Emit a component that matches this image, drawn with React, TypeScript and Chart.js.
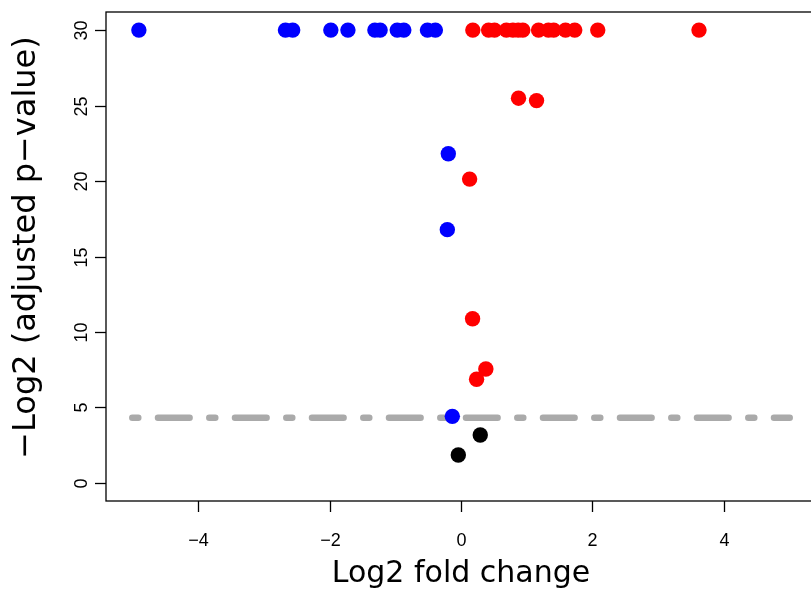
import { useEffect, useRef } from "react";
import { Chart, registerables } from "chart.js";

Chart.register(...registerables);

// Axis ticks and limits
const X_TICKS = [-4, -2, 0, 2, 4];
const Y_TICKS = [0, 5, 10, 15, 20, 25, 30];
const X_LIMITS = [-5.4, 5.4];
const Y_LIMITS = [-1.2, 31.2];

// Significance cut-off: -log2(0.05)
const THRESHOLD = 4.32;
const THRESHOLD_SPAN = [-5, 5];

// Down-regulated genes (blue)
const DOWN_X = [-4.9, -2.67, -2.56, -1.98, -1.72, -1.31, -1.23, -0.97, -0.87, -0.51, -0.39, -0.193, -0.208, -0.132];
const DOWN_Y = [30, 30, 30, 30, 30, 30, 30, 30, 30, 30, 30, 21.81, 16.78, 4.41];

// Up-regulated genes (red)
const UP_X = [0.18, 0.42, 0.51, 0.69, 0.79, 0.87, 0.94, 1.18, 1.33, 1.41, 1.59, 1.73, 2.08, 3.62, 0.875, 1.149, 0.131, 0.176, 0.378, 0.237];
const UP_Y = [30, 30, 30, 30, 30, 30, 30, 30, 30, 30, 30, 30, 30, 30, 25.49, 25.33, 20.13, 10.88, 7.55, 6.87];

// Not significant (black)
const NS_X = [0.293, -0.041];
const NS_Y = [3.17, 1.85];

const X_TITLE = "Log2 fold change";
const Y_TITLE = "\u2212Log2 (adjusted p\u2212value)";

const toPoints = (xs: number[], ys: number[]) => xs.map((x, i) => ({ x, y: ys[i] }));
const fmt = (v: number) => (v < 0 ? "\u2212" + Math.abs(v) : String(v));

// Base-graphics style frame, ticks and labels
const frameAxes = {
  id: "frameAxes",
  afterDraw(chart: any) {
    const { ctx, chartArea: a, scales } = chart;
    const x = scales.x;
    const y = scales.y;
    ctx.save();
    ctx.strokeStyle = "#000";
    ctx.fillStyle = "#000";
    ctx.lineWidth = 1.3;
    ctx.strokeRect(a.left, a.top, a.right - a.left, a.bottom - a.top);

    ctx.font = '18px "Liberation Sans", Arial, sans-serif';
    ctx.textAlign = "center";
    ctx.textBaseline = "alphabetic";
    X_TICKS.forEach((v) => {
      const px = Math.round(x.getPixelForValue(v)) + 0.5;
      ctx.beginPath();
      ctx.moveTo(px, a.bottom);
      ctx.lineTo(px, a.bottom + 11);
      ctx.stroke();
      ctx.fillText(fmt(v), px, a.bottom + 45);
    });
    Y_TICKS.forEach((v) => {
      const py = Math.round(y.getPixelForValue(v)) + 0.5;
      ctx.beginPath();
      ctx.moveTo(a.left - 11, py);
      ctx.lineTo(a.left, py);
      ctx.stroke();
      ctx.save();
      ctx.translate(a.left - 19.5, py);
      ctx.rotate(-Math.PI / 2);
      ctx.fillText(fmt(v), 0, 0);
      ctx.restore();
    });

    ctx.font = '30px "DejaVu Sans", sans-serif';
    ctx.fillText(X_TITLE, (a.left + a.right) / 2, a.bottom + 80.5);

    ctx.font = '32px "DejaVu Sans", sans-serif';
    ctx.save();
    ctx.translate(a.left - 71, (a.top + a.bottom) / 2 - 9);
    ctx.rotate(-Math.PI / 2);
    ctx.fillText(Y_TITLE, 0, 0);
    ctx.restore();
    ctx.restore();
  },
};

function VolcanoPlot() {
  const canvasRef = useRef<HTMLCanvasElement | null>(null);

  useEffect(() => {
    const canvas = canvasRef.current;
    if (!canvas) return;
    const pointStyle = { pointRadius: 7.7, pointHoverRadius: 7.7, borderWidth: 0, pointBorderWidth: 0 };
    const chart = new Chart(canvas, {
      type: "scatter",
      data: {
        datasets: [
          {
            label: "down",
            data: toPoints(DOWN_X, DOWN_Y),
            backgroundColor: "#0000ff",
            pointBackgroundColor: "#0000ff",
            order: 1,
            ...pointStyle,
          },
          {
            label: "up",
            data: toPoints(UP_X, UP_Y),
            backgroundColor: "#ff0000",
            pointBackgroundColor: "#ff0000",
            order: 1,
            ...pointStyle,
          },
          {
            label: "ns",
            data: toPoints(NS_X, NS_Y),
            backgroundColor: "#000000",
            pointBackgroundColor: "#000000",
            order: 1,
            ...pointStyle,
          },
          {
            label: "threshold",
            data: THRESHOLD_SPAN.map((x) => ({ x, y: THRESHOLD })),
            showLine: true,
            borderColor: "#aaaaaa",
            borderWidth: 6.5,
            borderDash: [6, 19.7, 31.6, 19.7],
            borderCapStyle: "round",
            pointRadius: 0,
            pointHoverRadius: 0,
            order: 5,
          } as any,
        ],
      },
      options: {
        animation: false,
        responsive: false,
        events: [],
        layout: { padding: { left: 106, top: 12, right: 14, bottom: 88 } },
        plugins: { legend: { display: false }, tooltip: { enabled: false } },
        scales: {
          x: { type: "linear", display: false, min: X_LIMITS[0], max: X_LIMITS[1] },
          y: { type: "linear", display: false, min: Y_LIMITS[0], max: Y_LIMITS[1] },
        },
      },
      plugins: [frameAxes],
    });
    return () => chart.destroy();
  }, []);

  return <canvas ref={canvasRef} width={830} height={589} style={{ display: "block" }} />;
}

export default function App() {
  return (
    <div
      style={{
        position: "absolute",
        left: 0,
        top: 0,
        width: 811,
        height: 589,
        overflow: "hidden",
        background: "#fff",
      }}
    >
      <VolcanoPlot />
    </div>
  );
}
